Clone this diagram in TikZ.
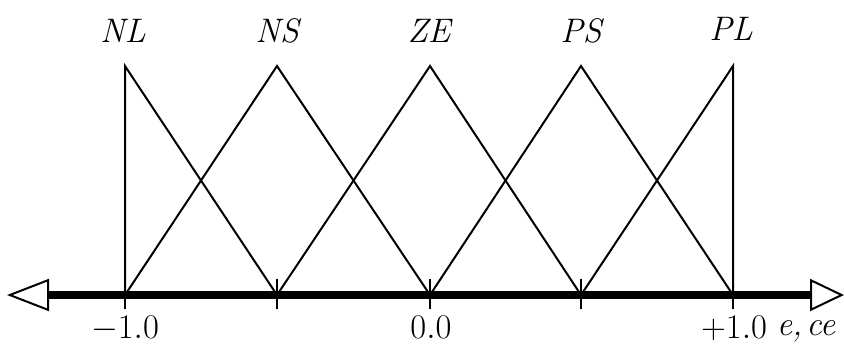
\documentclass[tikz,border=0pt]{standalone}
\usetikzlibrary{arrows.meta}
\begin{document}
\begin{tikzpicture}[x=0.5pt,y=-0.5pt,
  mf/.style={line width=1pt},
  axisline/.style={line width=4pt,{Triangle[open,length=21pt,width=16pt,line width=1pt]}-{Triangle[open,length=17pt,width=16pt,line width=1pt]}},
  tickmark/.style={line width=1pt},
  setlabel/.style={font=\fontsize{17}{19}\selectfont\itshape},
  numlabel/.style={font=\fontsize{18}{20}\selectfont, anchor=base}]
\useasboundingbox (0,0) rectangle (844,349);
% axis end points
\coordinate (L) at (7,295);
\coordinate (R) at (844,295);
\draw[axisline] (L) -- (R);
% positions
\coordinate (b1) at (125,295);
\coordinate (b2) at (277,295);
\coordinate (b3) at (430,295);
\coordinate (b4) at (581,295);
\coordinate (b5) at (733,295);
\coordinate (p1) at (125,66);
\coordinate (p2) at (277,66);
\coordinate (p3) at (430,66);
\coordinate (p4) at (581,66);
\coordinate (p5) at (733,66);
% ticks
\foreach \i in {1,...,5}{
  \draw[tickmark] ([yshift=-7pt]b\i) -- ([yshift=8pt]b\i);
}
% membership functions
\draw[mf] (b1) -- (p1) -- (b2);
\draw[mf] (b1) -- (p2) -- (b3);
\draw[mf] (b2) -- (p3) -- (b4);
\draw[mf] (b3) -- (p4) -- (b5);
\draw[mf] (b4) -- (p5) -- (b5);
% labels
\node[setlabel] (lNL) at (123,31) {NL};
\node[setlabel] (lNS) at (277,31) {NS};
\node[setlabel] (lZE) at (429,31) {ZE};
\node[setlabel] (lPS) at (581,31) {PS};
\node[setlabel] (lPL) at (731,29) {PL};
\node[numlabel] (n1) at (125,338) {$-1.0$};
\node[numlabel] (n3) at (431,338) {$0.0$};
\node[numlabel] (n5) at (734,338) {$+1.0$};
\node[setlabel, anchor=base] (nx) at (806,335) {e,\kern2pt ce};
\end{tikzpicture}
\end{document}
